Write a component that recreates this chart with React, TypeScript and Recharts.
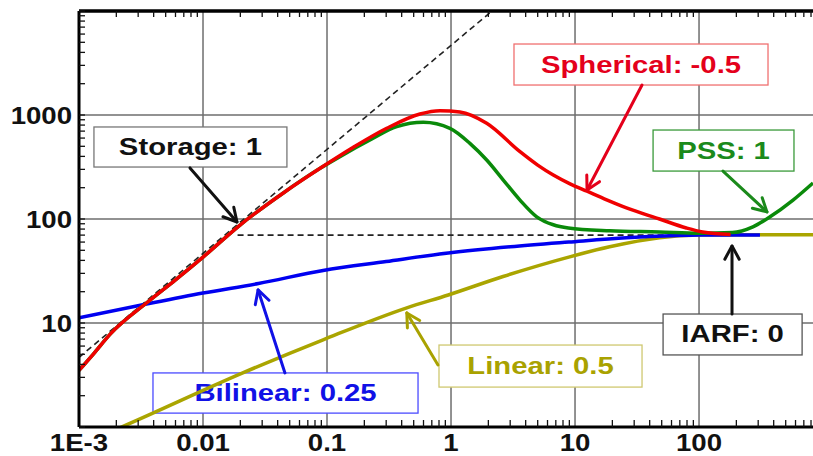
import React from 'react';
import {
  LineChart,
  Line,
  XAxis,
  YAxis,
  CartesianGrid,
  ReferenceArea,
  ReferenceLine,
} from 'recharts';

// axis setup (log-log, time vs pressure derivative)
const xDomain = [0.001, 830];
const yDomain = [1, 10000];
const xMajor = [0.001, 0.01, 0.1, 1, 10, 100];
const xLabels = ['1E-3', '0.01', '0.1', '1', '10', '100'];
const yMajor = [1, 10, 100, 1000, 10000];
const yLabels = ['', '10', '100', '1000', ''];

// curves: [time, derivative]
const spherical: [number, number][] = [
  [0.001, 3.5], [0.0013, 5.0], [0.0018, 7.9], [0.0036, 16], [0.006, 26], [0.01, 43],
  [0.02, 88], [0.045, 180], [0.088, 307], [0.163, 489], [0.303, 745], [0.562, 1023],
  [0.815, 1100], [1.18, 1069], [1.94, 832], [3.6, 444], [5, 330], [6.68, 265], [9.12, 218],
  [12.5, 185], [18, 153], [26, 128], [48, 100], [79, 82], [107, 75], [180, 71],
];
const pss: [number, number][] = [
  [0.001, 3.5], [0.0013, 5.0], [0.0018, 7.9], [0.0036, 16], [0.006, 26], [0.01, 43],
  [0.02, 88], [0.045, 180], [0.088, 307], [0.127, 398], [0.222, 575], [0.365, 772],
  [0.598, 851], [0.98, 745], [1.42, 534], [1.94, 369], [2.64, 237], [3.6, 152],
  [4.91, 105], [6.68, 88], [8.83, 82], [19, 77], [48, 75], [100, 73], [186, 74],
  [272, 84], [374, 105], [573, 152], [830, 222],
];
const bilinear: [number, number][] = [
  [0.001, 11.2], [0.0035, 15.2], [0.01, 19.4], [0.028, 24], [0.093, 32], [0.3, 39],
  [0.95, 47], [3, 54], [8.9, 60], [26, 66], [60, 69], [100, 70], [310, 70],
];
const linear: [number, number][] = [
  [0.0016, 0.85], [0.0022, 1], [0.0207, 3.3], [0.093, 6.9], [0.44, 14], [0.95, 18.6],
  [2.63, 28], [8.9, 43], [19, 54], [48, 66], [100, 70], [200, 70.5], [830, 70.5],
];
const unitSlope: [number, number][] = [[0.001, 4.67], [2.5, 11675]];
const iarfLevel: [number, number][] = [[0.019, 70], [120, 70]];

// annotation boxes and arrows, in data coordinates
const notes = [
  { text: 'Storage: 1', color: '#111', border: '#777', box: [0.00132, 0.0475, 316, 767], from: [0.00785, 310], to: [0.0188, 93.6] },
  { text: 'Spherical: -0.5', color: '#e4001b', border: '#f07070', box: [3.22, 360, 1942, 4815], from: [34.7, 1942], to: [12.5, 190] },
  { text: 'PSS: 1', color: '#1b8a1b', border: '#3a9a3a', box: [42.6, 583, 289, 717], from: [156, 289], to: [353, 117] },
  { text: 'IARF: 0', color: '#111', border: '#555', box: [51.3, 678, 4.93, 12.2], from: [184.5, 12.2], to: [184.5, 55] },
  { text: 'Linear: 0.5', color: '#a9a200', border: '#cfc870', box: [0.8, 34.7, 2.42, 6.14], from: [0.785, 3.95], to: [0.44, 12.5] },
  { text: 'Bilinear: 0.25', color: '#1111e6', border: '#4b4bff', box: [0.00395, 0.542, 1.36, 3.31], from: [0.0458, 3.31], to: [0.0278, 20.8] },
];

const pts = (arr: [number, number][]) => arr.map(([x, y]) => ({ x, y }));

const logTicks = (from: number, to: number, max: number) => {
  const out: number[] = [];
  for (let d = from; d < to; d++) {
    for (let m = 1; m < 10; m++) {
      const v = +(m * Math.pow(10, d)).toPrecision(3);
      if (v <= max) out.push(v);
    }
  }
  return out;
};
const xTicks = logTicks(-3, 3, xDomain[1]);
const yTicks = [...logTicks(0, 4, yDomain[1]), 10000];
const majorIndex = (list: number[], v: number) => list.findIndex((m) => Math.abs(m - v) / m < 1e-6);

const font = {
  fontFamily: '"Liberation Sans", Arial, sans-serif',
  fontWeight: 700,
  fontSize: 23,
};

const BottomTick = ({ x, y, payload }: any) => {
  const i = majorIndex(xMajor, payload.value);
  if (i < 0) return <line x1={x} x2={x} y1={y} y2={y - 7} stroke="#111" strokeWidth={1.3} />;
  return (
    <text transform={`translate(${x},${y + 24}) scale(1.2,1)`} textAnchor="middle" fill="#111" style={font}>
      {xLabels[i]}
    </text>
  );
};

const TopTick = ({ x, y, payload }: any) => {
  if (majorIndex(xMajor, payload.value) >= 0) return <g />;
  return <line x1={x} x2={x} y1={y} y2={y + 6} stroke="#111" strokeWidth={1.3} />;
};

const LeftTick = ({ x, y, payload }: any) => {
  const i = majorIndex(yMajor, payload.value);
  return (
    <g>
      <line x1={x} x2={x + 6} y1={y} y2={y} stroke="#111" strokeWidth={1.3} />
      {i >= 0 && yLabels[i] && (
        <text transform={`translate(${x - 7},${y + 9}) scale(1.2,1)`} textAnchor="end" fill="#111" style={font}>
          {yLabels[i]}
        </text>
      )}
    </g>
  );
};

const Arrow = (p: any) => {
  const { x1, y1, x2, y2, color } = p;
  const a = Math.atan2(y2 - y1, x2 - x1);
  const L = 15;
  const h1 = [x2 - L * Math.cos(a - 0.5), y2 - L * Math.sin(a - 0.5)];
  const h2 = [x2 - L * Math.cos(a + 0.5), y2 - L * Math.sin(a + 0.5)];
  return (
    <g stroke={color} strokeWidth={3} fill="none" strokeLinecap="round" strokeLinejoin="round">
      <line x1={x1} y1={y1} x2={x2} y2={y2} />
      <polyline points={`${h1[0]},${h1[1]} ${x2},${y2} ${h2[0]},${h2[1]}`} />
    </g>
  );
};

const NoteBox = (p: any) => {
  const { x, y, width, height, text, color, border } = p;
  return (
    <g>
      <rect x={x} y={y} width={width} height={height} fill="#fff" stroke={border} strokeWidth={1.3} />
      <text
        transform={`translate(${x + width / 2},${y + height / 2 + 8}) scale(1.22,1)`}
        textAnchor="middle"
        fill={color}
        style={{ ...font, fontSize: 24 }}
      >
        {text}
      </text>
    </g>
  );
};

export default function App() {
  return (
    <div style={{ position: 'absolute', left: 0, top: 0, width: 813, height: 456, background: '#fff' }}>
      <LineChart width={813} height={456} margin={{ top: 10, right: 0, bottom: 0, left: 0 }}>
        <CartesianGrid
          verticalValues={xMajor.slice(1)}
          horizontalValues={yMajor.slice(1, 4)}
          stroke="#6e6e6e"
          strokeWidth={1.5}
        />
        <XAxis
          dataKey="x"
          type="number"
          scale="log"
          domain={xDomain}
          allowDataOverflow
          ticks={xTicks}
          interval={0}
          height={29}
          tickLine={false}
          tickSize={0}
          tickMargin={0}
          axisLine={{ stroke: '#000', strokeWidth: 3 }}
          tick={<BottomTick />}
        />
        <XAxis
          xAxisId="top"
          orientation="top"
          dataKey="x"
          type="number"
          scale="log"
          domain={xDomain}
          allowDataOverflow
          ticks={xTicks}
          interval={0}
          height={1}
          tickLine={false}
          tickSize={0}
          tickMargin={0}
          axisLine={{ stroke: '#000', strokeWidth: 3 }}
          tick={<TopTick />}
        />
        <YAxis
          type="number"
          scale="log"
          domain={yDomain}
          allowDataOverflow
          ticks={yTicks}
          interval={0}
          width={79}
          tickLine={false}
          tickSize={0}
          tickMargin={0}
          axisLine={{ stroke: '#000', strokeWidth: 3 }}
          tick={<LeftTick />}
        />
        <ReferenceLine y={10000} stroke="#000" strokeWidth={3} />
        <Line data={pts(unitSlope)} dataKey="y" stroke="#222" strokeWidth={1.6} strokeDasharray="6 4" dot={false} isAnimationActive={false} />
        <Line data={pts(iarfLevel)} dataKey="y" stroke="#222" strokeWidth={1.6} strokeDasharray="6 4" dot={false} isAnimationActive={false} />
        <Line data={pts(linear)} dataKey="y" type="monotone" stroke="#aaa500" strokeWidth={3.5} dot={false} isAnimationActive={false} />
        <Line data={pts(bilinear)} dataKey="y" type="monotone" stroke="#0000f0" strokeWidth={3.5} dot={false} isAnimationActive={false} />
        <Line data={pts(pss)} dataKey="y" type="monotone" stroke="#0a8a0a" strokeWidth={3.5} dot={false} isAnimationActive={false} />
        <Line data={pts(spherical)} dataKey="y" type="monotone" stroke="#f00000" strokeWidth={3.5} dot={false} isAnimationActive={false} />
        {notes.map((n) => (
          <ReferenceLine
            key={n.text + '-arrow'}
            segment={[{ x: n.from[0], y: n.from[1] }, { x: n.to[0], y: n.to[1] }]}
            ifOverflow="visible"
            shape={(p: any) => <Arrow {...p} color={n.color} />}
          />
        ))}
        {notes.map((n) => (
          <ReferenceArea
            key={n.text}
            x1={n.box[0]}
            x2={n.box[1]}
            y1={n.box[2]}
            y2={n.box[3]}
            ifOverflow="visible"
            shape={(p: any) => <NoteBox {...p} text={n.text} color={n.color} border={n.border} />}
          />
        ))}
      </LineChart>
    </div>
  );
}
